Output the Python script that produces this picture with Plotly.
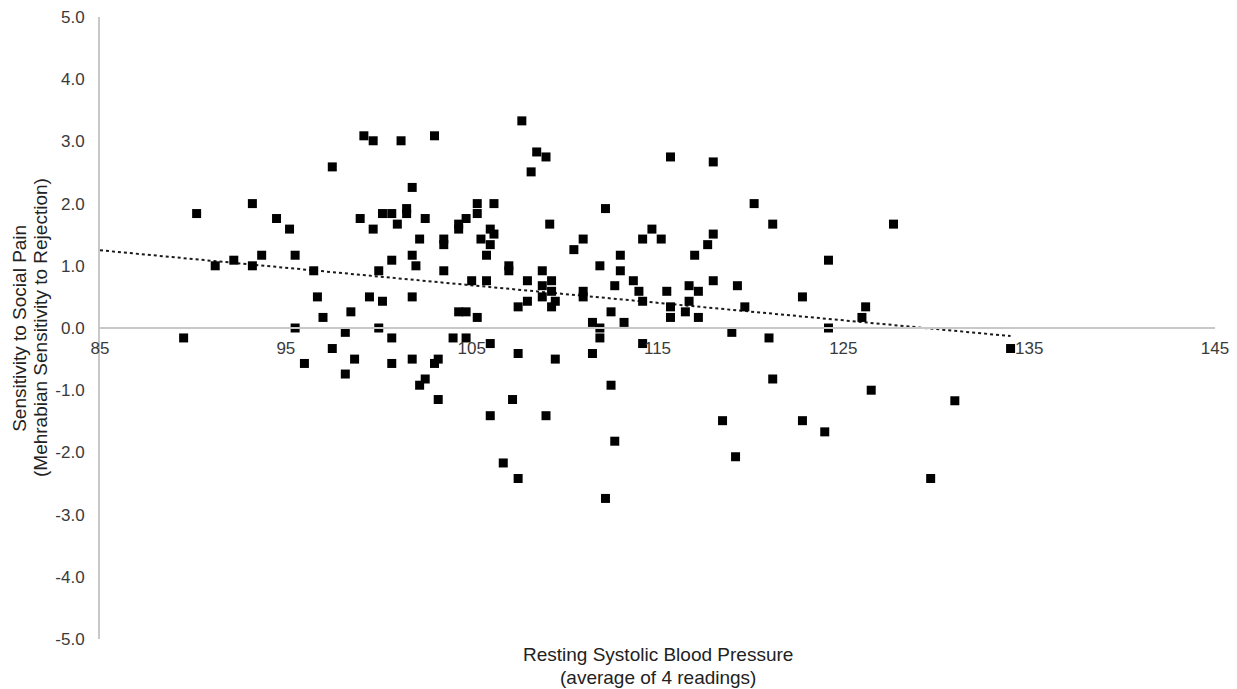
import plotly.graph_objects as go

# Resting systolic blood pressure (x) and sensitivity to social pain (y)
bp = [89.5, 90.2, 91.2, 92.2, 93.2, 93.2, 93.7, 94.5, 95.2, 95.5, 95.5,
      99.2, 99.7, 101.2, 103.0, 97.5, 101.8, 99.0, 100.2, 100.7, 101.5, 101.5, 102.5,
      99.7, 101.0, 102.2, 103.5, 103.5, 100.7, 101.8, 102.0, 96.5, 100.0, 103.5,
      96.7, 99.5, 100.2, 101.8, 97.0, 98.5, 100.0, 98.2, 100.7, 97.5, 96.0, 98.7,
      100.7, 101.8, 103.0, 103.2, 98.2, 102.2, 102.5, 103.2,
      107.7, 108.5, 109.0, 108.2, 105.3, 106.2, 104.7, 105.3, 104.3, 104.3, 109.2,
      106.0, 106.2, 105.5, 106.0, 105.8, 111.0, 110.5, 107.0, 107.0, 108.8, 105.0,
      105.8, 108.0, 109.3, 108.8, 109.3, 108.8, 108.0, 109.5, 107.5, 109.3, 111.0,
      111.0, 111.9, 104.3, 104.7, 105.3, 111.5, 111.9, 111.9, 104.0, 104.7, 106.0,
      107.5, 109.5, 111.5, 107.2,
      115.7, 118.0, 112.2, 114.7, 114.2, 115.2, 118.0, 117.7, 113.0, 117.0, 113.0,
      112.7, 113.7, 114.0, 115.5, 116.7, 117.2, 118.0, 119.3, 114.2, 115.7, 115.7,
      116.7, 116.5, 117.2, 119.7, 112.5, 113.2, 114.2, 119.0, 112.5,
      120.2, 121.2, 127.7, 124.2, 122.8, 126.2, 126.0, 124.2, 121.0, 121.2, 126.5,
      134.0, 131.0, 129.7,
      106.0, 109.0, 112.7, 106.7, 107.5, 112.2,
      118.5, 122.8, 124.0, 119.2]

pain = [-0.16, 1.84, 1.00, 1.09, 2.00, 1.00, 1.17, 1.76, 1.59, 1.17, 0.00,
        3.09, 3.01, 3.01, 3.09, 2.59, 2.26, 1.76, 1.84, 1.84, 1.92, 1.84, 1.76,
        1.59, 1.67, 1.43, 1.43, 1.34, 1.09, 1.17, 1.00, 0.92, 0.92, 0.92,
        0.50, 0.50, 0.43, 0.50, 0.17, 0.26, 0.00, -0.07, -0.16, -0.33, -0.57, -0.50,
        -0.57, -0.50, -0.57, -0.50, -0.74, -0.92, -0.82, -1.15,
        3.33, 2.83, 2.75, 2.51, 2.00, 2.00, 1.76, 1.84, 1.67, 1.59, 1.67,
        1.59, 1.51, 1.43, 1.34, 1.17, 1.43, 1.26, 1.00, 0.92, 0.92, 0.76,
        0.76, 0.76, 0.76, 0.68, 0.59, 0.50, 0.43, 0.43, 0.34, 0.34, 0.59,
        0.50, 1.00, 0.26, 0.26, 0.17, 0.09, 0.00, -0.16, -0.16, -0.16, -0.25,
        -0.41, -0.50, -0.41, -1.15,
        2.75, 2.67, 1.92, 1.59, 1.43, 1.43, 1.51, 1.34, 1.17, 1.17, 0.92,
        0.68, 0.76, 0.59, 0.59, 0.68, 0.59, 0.76, 0.68, 0.43, 0.34, 0.17,
        0.43, 0.26, 0.17, 0.34, 0.26, 0.09, -0.25, -0.07, -0.92,
        2.00, 1.67, 1.67, 1.09, 0.50, 0.34, 0.17, 0.00, -0.16, -0.82, -1.00,
        -0.33, -1.17, -2.42,
        -1.41, -1.41, -1.82, -2.17, -2.42, -2.74,
        -1.49, -1.49, -1.67, -2.07]

# Dotted linear trend line as drawn in the chart (end points)
trend_x = [85, 134.0]
trend_y = [1.25, -0.13]

x_ticks = [85, 95, 105, 115, 125, 135, 145]
y_ticks = [-5, -4, -3, -2, -1, 0, 1, 2, 3, 4, 5]

x_title = ["Resting Systolic Blood Pressure", "(average of 4 readings)"]
y_title = ["Sensitivity to Social Pain", "(Mehrabian Sensitivity to Rejection)"]

FONT = "Arial, Liberation Sans, Helvetica, sans-serif"
TXT = "#3a3a3a"
TITLE = "#222222"
AX = "#c8c8c8"

fig = go.Figure()
fig.add_trace(go.Scatter(
    x=trend_x, y=trend_y, mode="lines",
    line=dict(color="#1a1a1a", width=2, dash="dot"),
    hoverinfo="skip", showlegend=False))
fig.add_trace(go.Scatter(
    x=bp, y=pain, mode="markers",
    marker=dict(symbol="square", size=9, color="black", line=dict(width=0)),
    showlegend=False))

title_font = dict(size=19, color=TITLE, family=FONT)
annotations = [
    dict(text=x_title[0], xref="paper", yref="paper", x=0.5, y=-0.0257,
         xanchor="center", yanchor="middle", showarrow=False, font=title_font),
    dict(text=x_title[1], xref="paper", yref="paper", x=0.5, y=-0.0611,
         xanchor="center", yanchor="middle", showarrow=False, font=title_font),
    dict(text=y_title[0], xref="paper", yref="paper", x=-0.0728, y=0.5,
         xanchor="center", yanchor="middle", textangle=-90, showarrow=False, font=title_font),
    dict(text=y_title[1], xref="paper", yref="paper", x=-0.0538, y=0.5,
         xanchor="center", yanchor="middle", textangle=-90, showarrow=False, font=title_font),
]

fig.update_layout(
    width=1229, height=681,
    margin=dict(l=92, r=22, t=9, b=50),
    paper_bgcolor="white", plot_bgcolor="white",
    font=dict(family=FONT, color=TXT, size=17),
    xaxis=dict(
        range=[85, 145], tickvals=x_ticks, ticktext=[str(v) for v in x_ticks],
        showgrid=False, zeroline=False, showline=True, linecolor=AX, linewidth=2,
        anchor="free", position=0.5, ticks="", ticklabelstandoff=5, automargin=False,
        ticklabeloverflow="allow",
        tickfont=dict(size=17, color=TXT, family=FONT)),
    yaxis=dict(
        range=[-5, 5], tickvals=y_ticks, ticktext=[f"{v:.1f}" for v in y_ticks],
        showgrid=False, zeroline=False, showline=True, linecolor=AX, linewidth=2,
        ticks="", ticklabelstandoff=10, automargin=False,
        ticklabeloverflow="allow",
        tickfont=dict(size=17, color=TXT, family=FONT)),
    annotations=annotations,
)

fig.write_html("out.html")
